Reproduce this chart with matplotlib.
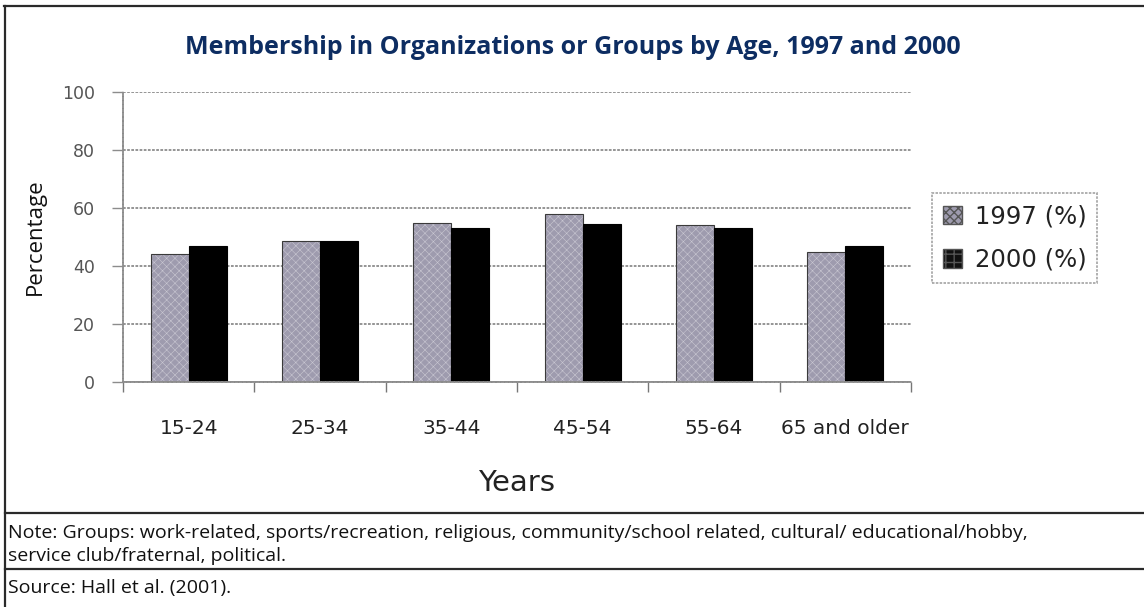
import matplotlib
matplotlib.use("Agg")
import matplotlib.pyplot as plt
import numpy as np
from matplotlib.lines import Line2D
from matplotlib.patches import Patch

categories = ["15-24", "25-34", "35-44", "45-54", "55-64", "65 and older"]
values_1997 = [44, 48.5, 55, 58, 54, 45]
values_2000 = [47, 48.5, 53, 54.5, 53, 47]
series_labels = ["1997 (%)", "2000 (%)"]
y_ticks = [0, 20, 40, 60, 80, 100]

title = "Membership in Organizations or Groups by Age, 1997 and 2000"
note_line1 = "Note: Groups: work-related, sports/recreation, religious, community/school related, cultural/ educational/hobby,"
note_line2 = "service club/fraternal, political."
source = "Source: Hall et al. (2001)."

W, H = 1144, 607
fig = plt.figure(figsize=(W / 100, H / 100), dpi=100)
fig.patch.set_facecolor("white")

def fx(px):
    return px / W

def fy(py):
    return 1 - py / H

ax = fig.add_axes([fx(123), fy(382), fx(911) - fx(123), fy(92) - fy(382)])

grid_col = "#8c8c8c"
dash = (0, (1.5, 0.8))

x = np.arange(len(categories))
bw = 0.29
b1 = ax.bar(x - bw / 2, values_1997, width=bw, color="#9e9bae", edgecolor="#3a3a3a",
            linewidth=0.8, hatch="xxxx", zorder=3)
for p in b1:
    p.set_hatch_linewidth(0.4)
    p._hatch_color = matplotlib.colors.to_rgba("#c9c7d2")
b2 = ax.bar(x + bw / 2, values_2000, width=bw, color="black", edgecolor="black",
            linewidth=0.8, zorder=3)

ax.set_xlim(-0.5, len(categories) - 0.5)
ax.set_ylim(0, 100)
ax.set_yticks(y_ticks)
ax.set_yticklabels([str(v) for v in y_ticks], fontsize=12.5, color="#555555")
ax.yaxis.grid(True, color=grid_col, linestyle=dash, linewidth=1.3, zorder=0)
ax.tick_params(axis="y", direction="out", length=8, width=1, color=grid_col, pad=12)

# category boundary ticks (major) and labels at centers (minor)
ax.set_xticks(np.arange(len(categories) + 1) - 0.5)
ax.set_xticklabels([])
ax.tick_params(axis="x", which="major", direction="out", length=7, width=1, color="#777777")
ax.set_xticks(x, minor=True)
ax.set_xticklabels(categories, minor=True, fontsize=14.5, color="#222222")
ax.tick_params(axis="x", which="minor", length=0, pad=27)

for s in ["top", "right"]:
    ax.spines[s].set_visible(False)
for s in ["left", "bottom"]:
    ax.spines[s].set_color(grid_col)
    ax.spines[s].set_linestyle(dash)
    ax.spines[s].set_linewidth(1.3)
ax.spines["bottom"].set_zorder(4)

ax.set_ylabel("Percentage", fontsize=16, family="Open Sans", labelpad=12, color="#111111")
ax.set_xlabel("Years", fontsize=21, labelpad=22, color="#222222")

leg_handles = [Patch(facecolor="#9e9bae", edgecolor="#555555", hatch="xxxx"),
               Patch(facecolor="#111111", edgecolor="#555555", hatch="++")]
leg = fig.legend(leg_handles, series_labels, loc="center left",
                 bbox_to_anchor=(fx(932), fy(238)), borderaxespad=0, fontsize=17.5, frameon=True,
                 handlelength=0.8, handleheight=0.8, handletextpad=0.5,
                 borderpad=0.45, labelspacing=0.8, fancybox=False)
leg.get_frame().set_edgecolor("#8c8c8c")
leg.get_frame().set_linestyle(dash)
leg.get_frame().set_linewidth(1.2)
for t in leg.get_texts():
    t.set_color("#222222")

fig.text(fx(573), fy(47), title, ha="center", va="center", fontsize=18,
         fontweight="bold", family="Open Sans", color="#0d2d62")

fig.text(fx(8), fy(533), note_line1, ha="left", va="center", fontsize=14,
         family="Open Sans", color="#111111")
fig.text(fx(8), fy(556), note_line2, ha="left", va="center", fontsize=14,
         family="Open Sans", color="#111111")
fig.text(fx(8), fy(588), source, ha="left", va="center", fontsize=14,
         family="Open Sans", color="#111111")

lc = "#2a2a2a"
fig.add_artist(Line2D([fx(4), 1], [fy(6), fy(6)], color=lc, lw=1.6))
fig.add_artist(Line2D([fx(5), fx(5)], [fy(6), 0], color=lc, lw=1.6))
fig.add_artist(Line2D([fx(5), 1], [fy(513), fy(513)], color=lc, lw=1.6))
fig.add_artist(Line2D([fx(5), 1], [fy(569), fy(569)], color=lc, lw=1.6))

fig.savefig("out.png", dpi=100, facecolor="white")
